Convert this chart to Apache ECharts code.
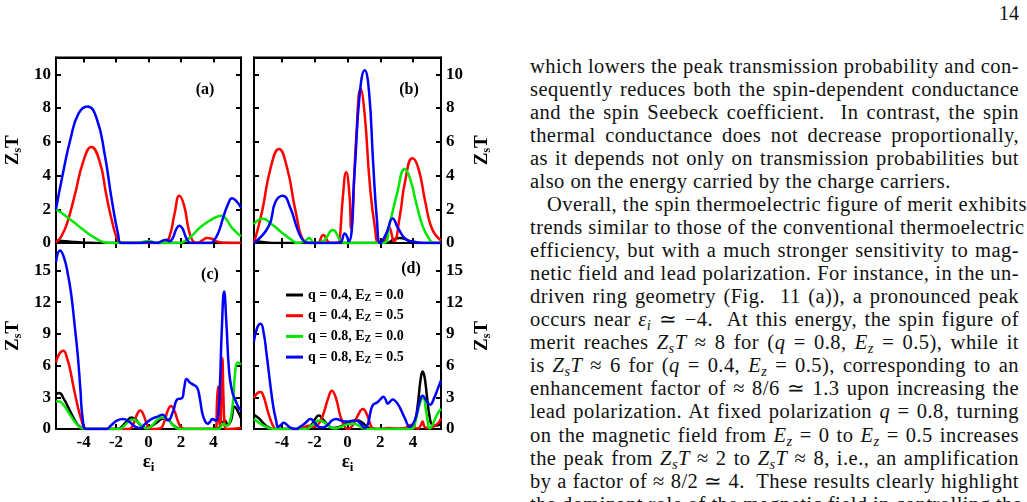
<!DOCTYPE html>
<html>
<head>
<meta charset="utf-8">
<script src="https://cdn.jsdelivr.net/npm/echarts@6/dist/echarts.min.js"></script>
<style>
  html, body { margin: 0; padding: 0; width: 1027px; height: 502px; overflow: hidden; background: #fff; }
  #chart { position: absolute; left: 0; top: 0; width: 520px; height: 502px; }
  #text { position: absolute; left: 530px; top: 54.5px; width: 489px; font-family: "Liberation Serif", serif; font-size: 20.5px; letter-spacing: 0.45px; line-height: 23.07px; color: #111; }
  #text div { white-space: nowrap; height: 23.07px; text-align: justify; text-align-last: justify; }
  #text div.last { text-align-last: left; }
  #text div.ind { padding-left: 17px; }
  #text sub { font-size: 0.7em; line-height: 0; vertical-align: -0.25em; }
  #pnum { position: absolute; right: 8px; top: 2px; font-family: "Liberation Serif", serif; font-size: 20px; color: #111; }
</style>
</head>
<body>
<div id="chart"></div>
<div id="pnum">14</div>
<div id="text">
  <div>which lowers the peak transmission probability and con-</div>
  <div>sequently reduces both the spin-dependent conductance</div>
  <div>and the spin Seebeck coefficient.&nbsp; In contrast, the spin</div>
  <div>thermal conductance does not decrease proportionally,</div>
  <div>as it depends not only on transmission probabilities but</div>
  <div class="last">also on the energy carried by the charge carriers.</div>
  <div class="ind">Overall, the spin thermoelectric figure of merit exhibits</div>
  <div>trends similar to those of the conventional thermoelectric</div>
  <div>efficiency, but with a much stronger sensitivity to mag-</div>
  <div>netic field and lead polarization. For instance, in the un-</div>
  <div>driven ring geometry (Fig.&nbsp; 11 (a)), a pronounced peak</div>
  <div>occurs near <i>ε<sub>i</sub></i> ≃ −4.&nbsp; At this energy, the spin figure of</div>
  <div>merit reaches <i>Z<sub>s</sub>T</i> ≈ 8 for (<i>q</i> = 0.8, <i>E<sub>z</sub></i> = 0.5), while it</div>
  <div>is <i>Z<sub>s</sub>T</i> ≈ 6 for (<i>q</i> = 0.4, <i>E<sub>z</sub></i> = 0.5), corresponding to an</div>
  <div>enhancement factor of ≈ 8/6 ≃ 1.3 upon increasing the</div>
  <div>lead polarization. At fixed polarization <i>q</i> = 0.8, turning</div>
  <div>on the magnetic field from <i>E<sub>z</sub></i> = 0 to <i>E<sub>z</sub></i> = 0.5 increases</div>
  <div>the peak from <i>Z<sub>s</sub>T</i> ≈ 2 to <i>Z<sub>s</sub>T</i> ≈ 8, i.e., an amplification</div>
  <div>by a factor of ≈ 8/2 ≃ 4.&nbsp; These results clearly highlight</div>
  <div>the dominant role of the magnetic field in controlling the</div>
</div>
<script>
// ---------- data ----------
const seriesNames = ['q = 0.4, E_Z = 0.0', 'q = 0.4, E_Z = 0.5', 'q = 0.8, E_Z = 0.0', 'q = 0.8, E_Z = 0.5'];
const xTicks = [-4, -2, 0, 2, 4];
const yTicksTop = [0, 2, 4, 6, 8, 10];
const yTicksBottom = [0, 3, 6, 9, 12, 15];
const panelLabels = ['(a)', '(b)', '(c)', '(d)'];

// panel (a)
const a_black = [[-5.7,0.15],[-5.3,0.12],[-4.8,0.08],[-4.3,0.05],[-3.8,0.02],[-3.3,0],[5.7,0]];
const a_red = [[-5.7,0.05],[-5.4,0.35],[-5.05,1.07],[-4.54,2.85],[-4.03,4.8],[-3.52,5.7],[-3.0,4.8],[-2.6,2.85],[-2.19,1.07],[-1.85,0.1],[-1.6,0],[1.0,0],[1.3,0.4],[1.6,1.7],[1.9,2.8],[2.2,2.2],[2.5,0.7],[2.8,0.05],[3.0,0],[3.3,0.15],[3.6,0.3],[3.9,0.25],[4.2,0.1],[4.6,0.02],[5.7,0]];
const a_green = [[-5.7,2.0],[-5.3,1.75],[-4.9,1.45],[-4.5,1.15],[-4.1,0.85],[-3.7,0.55],[-3.3,0.3],[-2.9,0.1],[-2.5,0.01],[-2.2,0],[-0.6,0],[-0.3,0.08],[0,0.12],[0.3,0.05],[0.6,0],[1.9,0],[2.3,0.15],[2.7,0.45],[3.1,0.85],[3.5,1.15],[3.9,1.4],[4.2,1.55],[4.5,1.62],[4.8,1.4],[5.1,0.95],[5.4,0.65],[5.7,0.4]];
const a_blue = [[-5.7,2.0],[-5.3,4.0],[-4.8,6.2],[-4.3,7.7],[-3.76,8.1],[-3.2,7.4],[-2.69,5.2],[-2.28,2.65],[-1.87,0.5],[-1.68,0],[-0.5,0],[0,0.05],[0.5,0],[0.9,0.15],[1.1,0.2],[1.3,0.1],[1.5,0.3],[1.7,0.8],[1.9,1.03],[2.1,0.85],[2.3,0.35],[2.5,0.05],[2.7,0],[3.8,0],[4.0,0.1],[4.3,0.6],[4.6,1.5],[4.9,2.3],[5.15,2.65],[5.4,2.5],[5.7,2.1]];

// panel (b)
const b_black = [[-5.7,0.1],[-5.2,0.06],[-4.6,0],[2.4,0],[2.8,0.2],[3.2,0.3],[3.6,0.2],[4.0,0],[5.7,0]];
const b_red = [[-5.7,0],[-5.21,1.86],[-4.7,4.4],[-4.18,5.57],[-3.67,4.4],[-3.16,1.86],[-2.65,0.1],[-2.3,0],[-1.83,0],[-1.48,0.47],[-1.05,0],[-0.6,0],[-0.49,0.1],[-0.29,2.65],[-0.08,4.19],[0.12,2.85],[0.22,0.87],[0.53,6.2],[0.8,9.13],[1.05,7.6],[1.35,3.6],[1.66,1.0],[1.93,0],[2.27,0.1],[2.54,0.93],[2.83,0.1],[3.2,1.66],[3.5,3.6],[3.96,5.02],[4.33,4.4],[4.74,2.45],[5.15,0.85],[5.7,0.15]];
const b_green = [[-5.7,1.1],[-5.21,1.46],[-4.6,1.1],[-3.98,0.6],[-3.36,0.15],[-3.06,0],[-2.6,0.1],[-2.34,0.3],[-2.03,0],[-1.5,0.1],[-0.9,0.77],[-0.39,0.1],[-0.1,0],[2.17,0],[2.58,1.2],[3.0,2.85],[3.5,4.39],[3.82,3.8],[4.23,2.2],[4.64,0.85],[5.05,0.15],[5.3,0],[5.7,0]];
const b_blue = [[-5.7,0],[-4.8,1.0],[-4.39,2.45],[-3.94,2.8],[-3.47,2.05],[-3.06,0.85],[-2.65,0.1],[-2.3,0],[-0.5,0.02],[-0.17,0.57],[0.08,0.1],[0.43,4.2],[0.74,8.8],[1.05,10.25],[1.31,9.0],[1.56,4.8],[1.8,1.3],[2.0,0],[2.38,0.6],[2.75,1.46],[3.1,0.85],[3.6,0.2],[4.2,0.05],[4.6,0],[5.7,0]];

// panel (c)
const c_black = [[-5.7,3.3],[-5.5,3.4],[-5.2,2.8],[-4.9,1.9],[-4.6,1.0],[-4.3,0.3],[-4.0,0.02],[-3.8,0],[-1.9,0],[-1.6,0.3],[-1.3,0.8],[-1.06,1.1],[-0.8,0.9],[-0.5,0.4],[-0.2,0.1],[0.1,0.2],[0.5,0.6],[0.9,1.0],[1.2,0.9],[1.5,0.4],[1.9,0.05],[2.2,0],[4.2,0],[4.5,0.4],[4.7,0.8],[4.9,0.4],[5.1,0.9],[5.3,2.1],[5.5,1.7],[5.7,1.0]];
const c_red = [[-5.7,6.3],[-5.5,7.1],[-5.25,7.4],[-5.0,6.6],[-4.8,5.4],[-4.65,4.2],[-4.4,2.4],[-4.14,0.9],[-3.9,0.05],[-3.7,0],[-1.2,0],[-0.9,0.6],[-0.7,1.4],[-0.51,1.74],[-0.3,1.3],[-0.05,0.3],[0.2,0],[0.7,0.05],[0.95,0.6],[1.2,1.8],[1.39,2.17],[1.6,1.7],[1.85,0.6],[2.1,0.05],[2.3,0],[4.15,0],[4.22,2.5],[4.28,4.0],[4.34,1.0],[4.42,0.3],[4.5,4.5],[4.55,6.7],[4.62,3.0],[4.7,0.3],[4.8,0],[5.7,0.1]];
const c_green = [[-5.7,2.6],[-5.5,2.6],[-5.2,2.2],[-4.9,1.5],[-4.6,0.8],[-4.3,0.25],[-4.0,0.02],[-3.8,0],[-1.8,0],[-1.5,0.3],[-1.2,0.75],[-0.95,0.9],[-0.7,0.7],[-0.4,0.3],[-0.1,0.05],[0.2,0.3],[0.5,0.8],[0.85,1.1],[1.2,0.9],[1.5,0.4],[1.8,0.05],[2.1,0],[4.3,0],[4.6,0.5],[4.8,0.3],[5.0,0.6],[5.2,2.5],[5.35,5.5],[5.5,6.3],[5.7,6.1]];
const c_blue = [[-5.7,15.8],[-5.45,16.9],[-5.2,16.2],[-4.95,14.5],[-4.76,12.7],[-4.55,9.8],[-4.36,7.0],[-4.2,3.8],[-4.05,0.9],[-3.85,0],[-2.6,0],[-2.3,0.35],[-1.95,0.8],[-1.57,0.95],[-1.2,0.7],[-0.8,0.2],[-0.5,0.1],[-0.2,0.5],[0.2,0.95],[0.6,1.2],[0.88,1.35],[1.2,0.8],[1.5,1.6],[1.8,2.84],[2.05,2.9],[2.2,3.9],[2.35,4.74],[2.55,4.4],[2.75,4.2],[3.0,3.9],[3.15,3.0],[3.33,1.4],[3.5,0.7],[3.64,0.5],[3.8,0.7],[3.94,0.95],[4.15,0.8],[4.3,1.5],[4.4,4.1],[4.52,9.5],[4.66,13.0],[4.8,10.0],[4.97,5.4],[5.15,3.6],[5.28,3.0],[5.58,1.95],[5.7,1.8]];

// panel (d)
const d_black = [[-5.7,1.35],[-5.4,1.0],[-5.1,0.5],[-4.8,0.15],[-4.5,0],[-2.6,0],[-2.2,0.4],[-1.95,1.0],[-1.75,1.27],[-1.5,0.9],[-1.2,0.4],[-0.9,0.1],[-0.5,0.2],[-0.1,0.5],[0.3,0.75],[0.6,0.8],[0.9,0.6],[1.2,0.2],[1.5,0],[3.9,0],[4.1,0.6],[4.3,2.5],[4.45,4.6],[4.58,5.43],[4.7,4.9],[4.85,3.0],[5.0,1.2],[5.15,0.4],[5.35,0.3],[5.7,0.5]];
const d_red = [[-5.7,2.9],[-5.5,3.4],[-5.3,3.5],[-5.1,3.0],[-4.9,1.9],[-4.7,0.9],[-4.5,0.2],[-4.35,0],[-3.0,0],[-2.7,0.15],[-2.4,0.3],[-2.1,0.2],[-1.8,0.4],[-1.5,1.3],[-1.2,2.8],[-0.95,3.63],[-0.7,2.9],[-0.45,1.3],[-0.2,0.3],[0,0],[0.3,0.3],[0.6,1.2],[0.94,1.9],[1.2,1.3],[1.4,0.4],[1.56,0.05],[1.8,0],[2.5,0.1],[3.0,0.05],[3.5,0.1],[3.9,0.4],[4.1,0.1],[4.3,0.05],[4.45,0.3],[4.58,0.7],[4.7,0.2],[4.9,0.1],[5.2,0.2],[5.5,0.5],[5.7,1.0]];
const d_green = [[-5.7,0.95],[-5.4,0.6],[-5.1,0.3],[-4.8,0.1],[-4.5,0],[-2.5,0],[-2.2,0.3],[-1.9,0.7],[-1.7,0.8],[-1.4,0.6],[-1.1,0.2],[-0.8,0.05],[-0.4,0.2],[0.0,0.45],[0.4,0.5],[0.7,0.3],[1.0,0.05],[1.3,0],[3.9,0],[4.1,0.5],[4.3,1.8],[4.5,2.8],[4.62,2.9],[4.78,1.8],[4.9,0.6],[5.0,0.05],[5.15,0.3],[5.35,1.0],[5.55,1.6],[5.7,1.9]];
const d_blue = [[-5.7,8.3],[-5.5,9.6],[-5.3,9.95],[-5.1,9.0],[-4.95,7.3],[-4.8,5.4],[-4.65,3.5],[-4.5,1.9],[-4.35,0.8],[-4.24,0.2],[-4.05,0.4],[-3.9,0.6],[-3.7,0.4],[-3.45,0.1],[-3.18,0],[-2.9,0.2],[-2.55,0.6],[-2.26,0.95],[-2.0,0.6],[-1.75,0.2],[-1.5,0.15],[-1.2,0.4],[-0.95,0.8],[-0.7,0.95],[-0.4,0.8],[-0.09,0.7],[0.2,0.75],[0.53,0.8],[0.8,0.5],[1.05,0.1],[1.25,0.5],[1.4,1.6],[1.56,2.3],[1.8,2.5],[2.0,2.8],[2.18,3.06],[2.32,2.8],[2.45,2.4],[2.6,2.6],[2.75,2.8],[2.95,2.6],[3.2,2.0],[3.5,1.0],[3.8,0.2],[4.0,0.5],[4.2,1.3],[4.4,2.6],[4.58,3.15],[4.8,2.7],[5.03,2.3],[5.3,3.0],[5.5,3.8],[5.7,4.6]];

// ---------- layout / style ----------
const colors = ['#000000', '#ff0000', '#00e600', '#0000ff'];
const FONT = '"Liberation Serif", "Times New Roman", serif';
const panels = [
  { left: 56, top: 57.5, width: 185, height: 185.5, ymax: 11, yticks: yTicksTop, side: 'left', xlabels: false, data: [a_black, a_red, a_green, a_blue], lab: [205, 90] },
  { left: 254, top: 57.5, width: 187, height: 185.5, ymax: 11, yticks: yTicksTop, side: 'right', xlabels: false, data: [b_black, b_red, b_green, b_blue], lab: [409, 90] },
  { left: 56, top: 243, width: 185, height: 186, ymax: 17.6, yticks: yTicksBottom, side: 'left', xlabels: true, data: [c_black, c_red, c_green, c_blue], lab: [210, 275] },
  { left: 254, top: 243, width: 187, height: 186, ymax: 17.6, yticks: yTicksBottom, side: 'right', xlabels: true, data: [d_black, d_red, d_green, d_blue], lab: [411, 269] }
];

const grid = [], xAxis = [], yAxis = [], series = [], graphic = [];
const lineStyleAxis = { color: '#000', width: 2 };
panels.forEach((p, i) => {
  grid.push({ left: p.left, top: p.top, width: p.width, height: p.height, show: true, borderColor: '#000', borderWidth: 2, backgroundColor: 'transparent' });
  const xBase = { type: 'value', gridIndex: i, min: -5.7, max: 5.7, splitLine: { show: false },
    axisLine: { show: true, onZero: false, lineStyle: lineStyleAxis },
    axisTick: { show: true, inside: true, length: 5, lineStyle: { width: 2, color: '#000' }, customValues: xTicks } };
  xAxis.push(Object.assign({}, xBase, { position: 'bottom',
    axisLabel: { show: p.xlabels, customValues: xTicks, margin: 5, fontFamily: FONT, fontWeight: 'bold', fontSize: 17, color: '#000', formatter: v => String(v) },
    name: p.xlabels ? '{e|ε}{s|i}' : '', nameLocation: 'middle', nameGap: 22,
    nameTextStyle: { rich: { e: { fontFamily: FONT, fontSize: 19, fontWeight: 'bold', color: '#000' }, s: { fontFamily: FONT, fontSize: 13, fontWeight: 'bold', color: '#000', verticalAlign: 'bottom', padding: [10, 0, 0, 0] } } } }));
  xAxis.push(Object.assign({}, xBase, { position: 'top', axisLabel: { show: false } }));
  const yBase = { type: 'value', gridIndex: i, min: 0, max: p.ymax, splitLine: { show: false },
    axisLine: { show: true, onZero: false, lineStyle: lineStyleAxis },
    axisTick: { show: true, inside: true, length: 5, lineStyle: { width: 2, color: '#000' }, customValues: p.yticks } };
  const other = p.side === 'left' ? 'right' : 'left';
  yAxis.push(Object.assign({}, yBase, { position: p.side,
    axisLabel: { show: true, customValues: p.yticks, margin: 5, fontFamily: FONT, fontWeight: 'bold', fontSize: 17, color: '#000' },
    name: '{z|Z}{s|s}{z|T}', nameLocation: 'middle', nameGap: p.side === 'left' ? 32 : 30, nameRotate: 90,
    nameTextStyle: { rich: { z: { fontFamily: FONT, fontSize: 19, fontWeight: 'bold', color: '#000' }, s: { fontFamily: FONT, fontSize: 12, fontWeight: 'bold', color: '#000', verticalAlign: 'bottom', padding: [10, 0, 0, 0] } } } }));
  yAxis.push(Object.assign({}, yBase, { position: other, axisLabel: { show: false } }));
  p.data.forEach((d, k) => {
    series.push({ type: 'line', name: seriesNames[k], xAxisIndex: 2 * i, yAxisIndex: 2 * i, data: d,
      smooth: 0.5, symbol: 'none', clip: true,
      lineStyle: { color: colors[k], width: 2.5 }, itemStyle: { color: colors[k] }, z: 2 + k, silent: true });
  });
  graphic.push({ type: 'text', x: p.lab[0], y: p.lab[1], style: { text: panelLabels[i], font: 'bold 16px ' + FONT, fill: '#000', align: 'center', verticalAlign: 'middle' } });
});

const chart = echarts.init(document.getElementById('chart'), null, { renderer: 'canvas' });
chart.setOption({
  animation: false,
  grid, xAxis, yAxis, series, graphic,
  legend: {
    data: seriesNames, orient: 'vertical', left: 281, top: 282, itemWidth: 17, itemHeight: 3, itemGap: 4.7, icon: 'rect',
    selectedMode: false,
    formatter: n => n.replace('E_Z', 'E{sub|Z}'),
    textStyle: { fontFamily: FONT, fontWeight: 'bold', fontSize: 14, lineHeight: 16, color: '#000',
      rich: { sub: { fontFamily: FONT, fontWeight: 'bold', fontSize: 10, lineHeight: 16, color: '#000', verticalAlign: 'bottom', padding: [5, 0, 0, 0] } } }
  }
});
</script>
</body>
</html>
